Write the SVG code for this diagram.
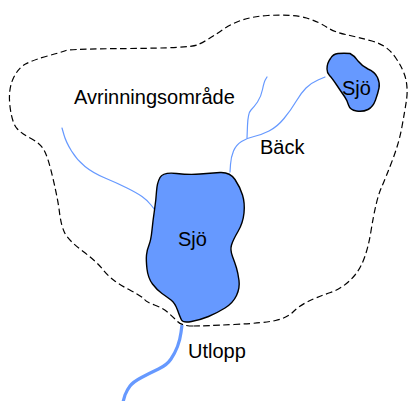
<svg xmlns="http://www.w3.org/2000/svg" width="409" height="401" viewBox="0 0 409 401">
  <style>
    .lake { fill: #6699ff; stroke: #000; stroke-width: 1.4; stroke-linejoin: round; }
    .stream { fill: none; stroke: #6699ff; stroke-width: 1.2; stroke-linecap: round; }
    .outlet { fill: none; stroke: #6699ff; stroke-width: 3.2; stroke-linecap: butt; }
    .divide { fill: none; stroke: #000; stroke-width: 1.2; stroke-dasharray: 6.5 3.5; }
    .label { font-family: "Liberation Sans", Arial, sans-serif; font-size: 20px; fill: #000; }
  </style>
  <rect width="409" height="401" fill="#fff"/>

  <!-- catchment boundary (water divide) -->
  <g id="catchment">
    <path class="divide" d="M193,326 Q182,326 177.5,321.5 Q173,317 168,312.5 Q163,308 154.5,305 Q146,302 144.5,299.5 Q143,297 131.5,291 Q120,285 113.5,280 Q107,275 102,268.5 Q97,262 82.5,251 Q68,240 64.5,232.5 Q61,225 59.5,212.5 Q58,200 53,178.5 Q48,157 44,150 Q40,143 31,138.5 Q22,134 17,128.5 Q12,123 10,106.5 Q8,90 13,79 Q18,68 25.5,64 Q33,60 47.5,56 Q62,52 66,50.5 Q70,49 129.5,48.5 Q189,48 197,45 Q205,42 223,29.5 Q241,17 267.5,15.5 Q294,14 306.5,18 Q319,22 326.5,27 Q334,32 345.5,34.5 Q357,37 372,41 Q387,45 395.5,57.5 Q404,70 406,80 Q408,90 406.5,100 Q405,110 402,126.5 Q399,143 392.5,160 Q386,177 381,188.5 Q376,200 371,231 Q366,262 355,275 Q344,288 330.5,292.5 Q317,297 308,301.5 Q299,306 293,312 Q287,318 275.5,320.5 Q264,323 234,324.5 Q204,326 193,326 Z"/>
  </g>

  <!-- streams -->
  <g id="connectors">
    <path class="stream" d="M325,77 L318,80 Q311,83 306,88 Q301,93 296,101.5 Q291,110 284,118.5 Q277,127 269,131 Q261,135 254,136.5 Q247,138 241.5,141.5 Q236,145 233.5,151 Q231,157 230.5,164.5 L230,172"/>
    <path class="stream" d="M247,138 L247.5,125.5 Q248,113 251,110 Q254,107 257.5,102 Q261,97 262.5,89.5 Q264,82 265.5,79.5 L267,77"/>
    <path class="stream" d="M62,128 L64,135 Q66,142 71.5,151 Q77,160 85,166.5 Q93,173 105,178 Q117,183 127,188 Q137,193 142,196.5 Q147,200 151,205 L155,210"/>
    <path class="outlet" d="M182,325 L181,332.5 Q180,340 177.5,346.5 Q175,353 171,359 Q167,365 158.5,369 Q150,373 141.5,377.5 Q133,382 130,386 Q127,390 125,395 L123,402"/>
  </g>

  <!-- main lake -->
  <g id="lake-main">
    <path class="lake" d="M160,177.5 Q163,172 176.5,173.5 Q190,175 200,174 Q210,173 220,172.5 Q230,172 235,179.5 Q240,187 242.5,195 Q245,203 244,213 Q243,223 238,231.5 Q233,240 231.5,245 Q230,250 232.5,256.5 Q235,263 236.5,268 Q238,273 239,280.5 Q240,288 236.5,295.5 Q233,303 225,308 Q217,313 208.5,316.5 Q200,320 191.5,321.5 Q183,323 181.5,320 Q180,317 177.5,310 Q175,303 171,300 Q167,297 162,293.5 Q157,290 152.5,284 Q148,278 147,269 Q146,260 146.5,255 Q147,250 149,245 Q151,240 152,230 Q153,220 154.5,210 Q156,200 156.5,191.5 Q157,183 160,177.5 Z"/>
    <text class="label" x="178" y="246">Sjö</text>
  </g>

  <!-- upper lake -->
  <g id="lake-upper">
    <path class="lake" d="M330.5,58.5 Q333,54 338,53.5 Q344,53 350,53.5 Q355,56 358,61 Q362,66 368,69 Q375,72 377.5,77.5 Q380,83 379,88 Q378,93 375.5,100 Q373,107 368,109.5 Q363,112 356.5,111 Q350,110 348.5,105 Q347,100 344.5,96.5 Q342,93 337,85.5 Q332,78 329.5,75.5 Q327,73 327,69 Q327,63 330.5,58.5 Z"/>
    <text class="label" x="342" y="95">Sjö</text>
  </g>

  <g id="label-catchment">
    <text class="label" x="74" y="104">Avrinningsområde</text>
  </g>
  <g id="label-stream">
    <text class="label" x="260" y="154">Bäck</text>
  </g>
  <g id="label-outlet">
    <text class="label" x="188" y="358">Utlopp</text>
  </g>
</svg>
